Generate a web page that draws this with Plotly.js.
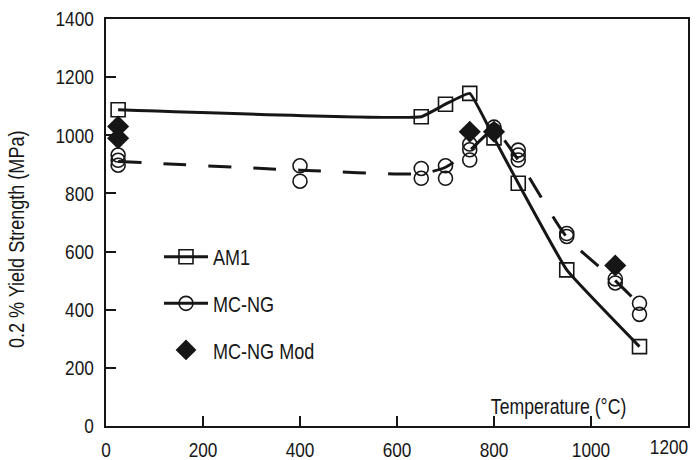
<!DOCTYPE html>
<html>
<head>
<meta charset="utf-8">
<script src="https://cdn.plot.ly/plotly-3.0.1.min.js"></script>
<style>html,body{margin:0;padding:0;background:#fff;}#chart{width:697px;height:460px;}</style>
</head>
<body>
<div id="chart"></div>
<script>
// AM1 (open squares, solid line)
const am1X = [25, 650, 700, 750, 800, 850, 950, 1100];
const am1Y = [1088, 1064, 1107, 1144, 991, 835, 537, 273];

// MC-NG individual tests (open circles)
const mcngX = [25, 25, 25, 400, 400, 650, 650, 700, 700, 750, 750, 750, 800, 800, 850, 850, 850, 950, 950, 1050, 1050, 1100, 1100];
const mcngY = [932, 914, 897, 895, 842, 886, 852, 895, 852, 970, 950, 915, 1028, 1016, 949, 932, 915, 662, 652, 506, 492, 422, 384];

// MC-NG fitted trend (dashed line)
const mcngCurveX = [25, 400, 650, 700, 750, 800, 850, 950, 1050, 1100];
const mcngCurveY = [910, 880, 868, 890, 948, 1018, 915, 650, 500, 418];

// MC-NG Mod (filled diamonds)
const modX = [25, 25, 750, 800, 1050];
const modY = [1030, 990, 1012, 1012, 552];

const xTicks = [0, 200, 400, 600, 800, 1000, 1200];
const xTickLabels = ['0', '200', '400', '600', '800', '1000', '1200'];
const yTicks = [0, 200, 400, 600, 800, 1000, 1200, 1400];

const FONT = '"Liberation Sans", Arial, Helvetica, sans-serif';
const INK = '#161616';
const CONDENSE = 0.82;

const lastI = xTicks.length - 1;
// all labels but the last on the main axis; the last one on an overlay axis so it can sit inside the figure
const xMainText = xTickLabels.map((t, i) => i === lastI ? '' : t);

const traces = [
  {
    name: 'AM1', legendgroup: 'am1',
    x: am1X, y: am1Y, mode: 'lines+markers', type: 'scatter',
    line: {color: INK, width: 3, shape: 'spline', smoothing: 0.3},
    marker: {symbol: 'square-open', size: 14, color: INK, line: {width: 1.6, color: INK}}
  },
  {
    name: 'MC-NG', legendgroup: 'mcng', showlegend: false,
    x: mcngCurveX, y: mcngCurveY, mode: 'lines', type: 'scatter',
    line: {color: INK, width: 3, dash: '23px,22px', shape: 'spline', smoothing: 0.6}
  },
  {
    name: 'MC-NG', legendgroup: 'mcng', showlegend: false,
    x: mcngX, y: mcngY, mode: 'markers', type: 'scatter',
    marker: {symbol: 'circle-open', size: 14, color: INK, line: {width: 1.6, color: INK}}
  },
  {
    name: 'MC-NG', legendgroup: 'mcng', showlegend: true, xaxis: 'x2',
    x: [null], y: [null], mode: 'lines+markers', type: 'scatter',
    line: {color: INK, width: 3},
    marker: {symbol: 'circle-open', size: 14, color: INK, line: {width: 1.6, color: INK}}
  },
  {
    name: 'MC-NG Mod', legendgroup: 'mod',
    x: modX, y: modY, mode: 'markers', type: 'scatter',
    marker: {symbol: 'diamond', size: 17, color: INK, line: {width: 0}}
  }
];

const axisCommon = {
  showgrid: false, zeroline: false,
  showline: true, linecolor: INK, linewidth: 2, mirror: true,
  ticks: 'inside', ticklen: 10, tickwidth: 2, tickcolor: INK,
  tickfont: {family: FONT, size: 21, color: INK}
};

const layout = {
  width: 697, height: 460,
  margin: {l: 106, r: 9, t: 19, b: 34},
  paper_bgcolor: '#fff', plot_bgcolor: '#fff',
  font: {family: FONT, color: INK},
  showlegend: true,
  xaxis: Object.assign({}, axisCommon, {
    range: [0, 1200], tickmode: 'array', tickvals: xTicks, ticktext: xMainText,
    ticklabelstandoff: 4
  }),
  xaxis2: {
    overlaying: 'x', anchor: 'y', side: 'bottom',
    range: [0, 1200], tickmode: 'array', tickvals: [xTicks[lastI]], ticktext: [xTickLabels[lastI]],
    showgrid: false, zeroline: false, showline: false, ticks: '',
    tickfont: {family: FONT, size: 21, color: INK},
    ticklabelstandoff: 6, ticklabelshift: -19, ticklabeloverflow: 'allow'
  },
  yaxis: Object.assign({}, axisCommon, {
    range: [0, 1400], tickmode: 'array', tickvals: yTicks,
    ticklabelstandoff: 6
  }),
  legend: {
    x: (159 - 106) / 582, y: 0.467, xanchor: 'left', yanchor: 'top',
    bgcolor: 'rgba(0,0,0,0)', borderwidth: 0,
    font: {family: FONT, size: 22, color: INK},
    traceorder: 'grouped', tracegroupgap: 15, itemwidth: 44
  },
  annotations: [
    {
      text: 'Temperature (°C)', xref: 'paper', yref: 'paper',
      x: 0.778, y: 0.047, xanchor: 'center', yanchor: 'middle', showarrow: false,
      font: {family: FONT, size: 21.5, color: INK}
    },
    {
      text: '0.2 % Yield Strength (MPa)', xref: 'paper', yref: 'paper',
      x: 0, xshift: -90, y: (426 - 240) / 407, xanchor: 'center', yanchor: 'middle',
      textangle: -90, showarrow: false,
      font: {family: FONT, size: 22, color: INK}
    }
  ]
};

Plotly.newPlot('chart', traces, layout, {staticPlot: true, displayModeBar: false}).then(gd => {
  // the original uses a condensed face; squeeze glyphs horizontally
  gd.querySelectorAll('svg text').forEach(t => {
    const len = t.getComputedTextLength();
    if (len > 0) {
      t.setAttribute('textLength', (len * CONDENSE).toFixed(2));
      t.setAttribute('lengthAdjust', 'spacingAndGlyphs');
    }
  });
});
</script>
</body>
</html>
